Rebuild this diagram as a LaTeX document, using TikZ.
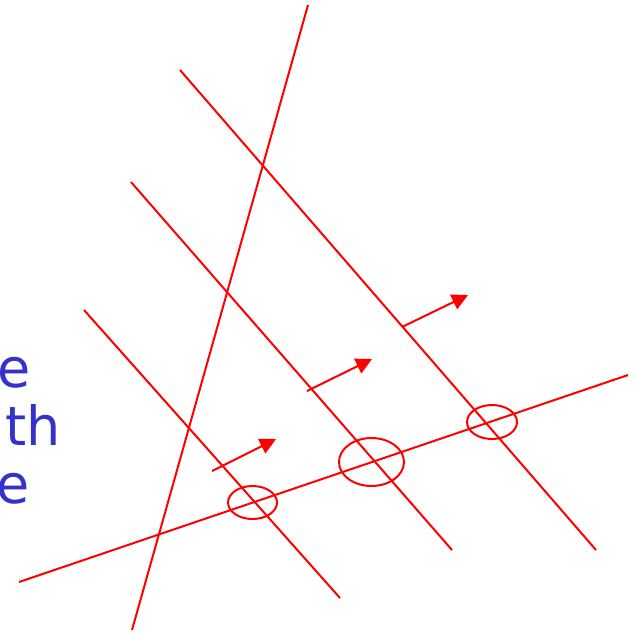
\documentclass[tikz,border=0pt]{standalone}
\usepackage{fontspec}
\setmainfont{DejaVu Sans}
\usetikzlibrary{arrows.meta}

\definecolor{wordblue}{RGB}{51,51,204}

\tikzset{
  ray/.style={red, line width=1pt},
  push/.style={red, line width=1pt, -{Triangle[length=8pt, width=8pt]}},
  ring/.style={red, line width=1pt},
  word/.style={text=wordblue, font=\fontsize{27}{32}\selectfont,
               anchor=base east, inner sep=0pt}
}

\begin{document}
\begin{tikzpicture}[x=0.5pt, y=-0.5pt]
  \useasboundingbox (0,0) rectangle (640,634);
  \clip (0,0) rectangle (640,634);

  % cut-off words at the left border
  \node [word] (W-1) at (31,387) {e};
  \node [word] (W-2) at (61,445) {nth};
  \node [word] (W-3) at (30,503) {e};

  % steep line and long rising line
  \coordinate (S-a) at (308,5);
  \coordinate (S-b) at (132,630);
  \coordinate (L-a) at (19,582);
  \coordinate (L-b) at (628,375);
  \draw [ray] (S-a) -- (S-b);
  \draw [ray] (L-a) -- (L-b);

  % three parallel lines
  \foreach \n/\ax/\ay/\bx/\by in {1/84/310/340/598, 2/131/182/452/550, 3/180/70/596/550}
  {
    \coordinate (P-\n-a) at (\ax,\ay);
    \coordinate (P-\n-b) at (\bx,\by);
    \draw [ray] (P-\n-a) -- (P-\n-b);
  }

  % arrows
  \foreach \n/\ax/\ay/\bx/\by in {1/212/471/276/439, 2/307/391/372/359, 3/402/327/468/295}
  {
    \coordinate (A-\n-a) at (\ax,\ay);
    \coordinate (A-\n-b) at (\bx,\by);
    \draw [push] (A-\n-a) -- (A-\n-b);
  }

  % rings round the crossings
  \coordinate (C-1) at (252.5,502.5);
  \coordinate (C-2) at (371.5,462);
  \coordinate (C-3) at (492,422);
  \draw [ring] (C-1) ellipse [x radius=12.25pt, y radius=8.25pt];
  \draw [ring] (C-2) ellipse [x radius=16.25pt, y radius=12pt];
  \draw [ring] (C-3) ellipse [x radius=12.5pt, y radius=8.5pt];

\end{tikzpicture}
\end{document}
